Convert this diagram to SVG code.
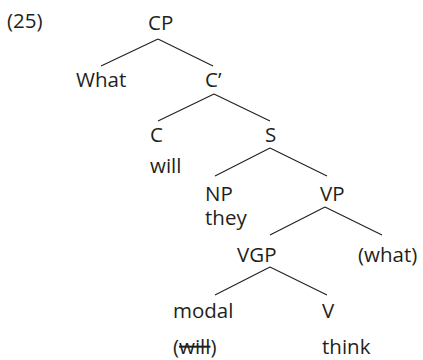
<svg xmlns="http://www.w3.org/2000/svg" width="423" height="360" viewBox="0 0 423 360">
<style>
text{font-family:"Open Sans","Noto Sans","Liberation Sans",sans-serif;font-size:20.5px;fill:#231f20}
.e{stroke:#231f20;stroke-width:1.1;fill:none}
</style>
<rect width="423" height="360" fill="#fff"/>
<text x="7" y="28">(25)</text>
<g id="connectors">
<path class="e" d="M158 39L101 66M158 39L213 66"/>
<path class="e" d="M214 94L158 121M214 94L270 121"/>
<path class="e" d="M270 148L215 176M270 148L327 176"/>
<path class="e" d="M325 207L270 235M325 207L382 235"/>
<path class="e" d="M270 267L215 295M270 267L327 295"/>
</g>
<g id="CP"><text x="148" y="30">CP</text></g>
<g id="What"><text x="76" y="87">What</text></g>
<g id="Cbar"><text x="205" y="87">C’</text></g>
<g id="C"><text x="150" y="142">C</text><text x="150" y="173">will</text></g>
<g id="S"><text x="265" y="142">S</text></g>
<g id="NP"><text x="205" y="201">NP</text><text x="205" y="225">they</text></g>
<g id="VP"><text x="320" y="201">VP</text></g>
<g id="VGP"><text x="237" y="262">VGP</text></g>
<g id="what"><text x="358" y="262">(what)</text></g>
<g id="modal"><text x="173" y="318">modal</text><text x="173" y="354">(<tspan text-decoration="line-through">will</tspan>)</text></g>
<g id="V"><text x="322" y="318">V</text><text x="322" y="354">think</text></g>
</svg>
